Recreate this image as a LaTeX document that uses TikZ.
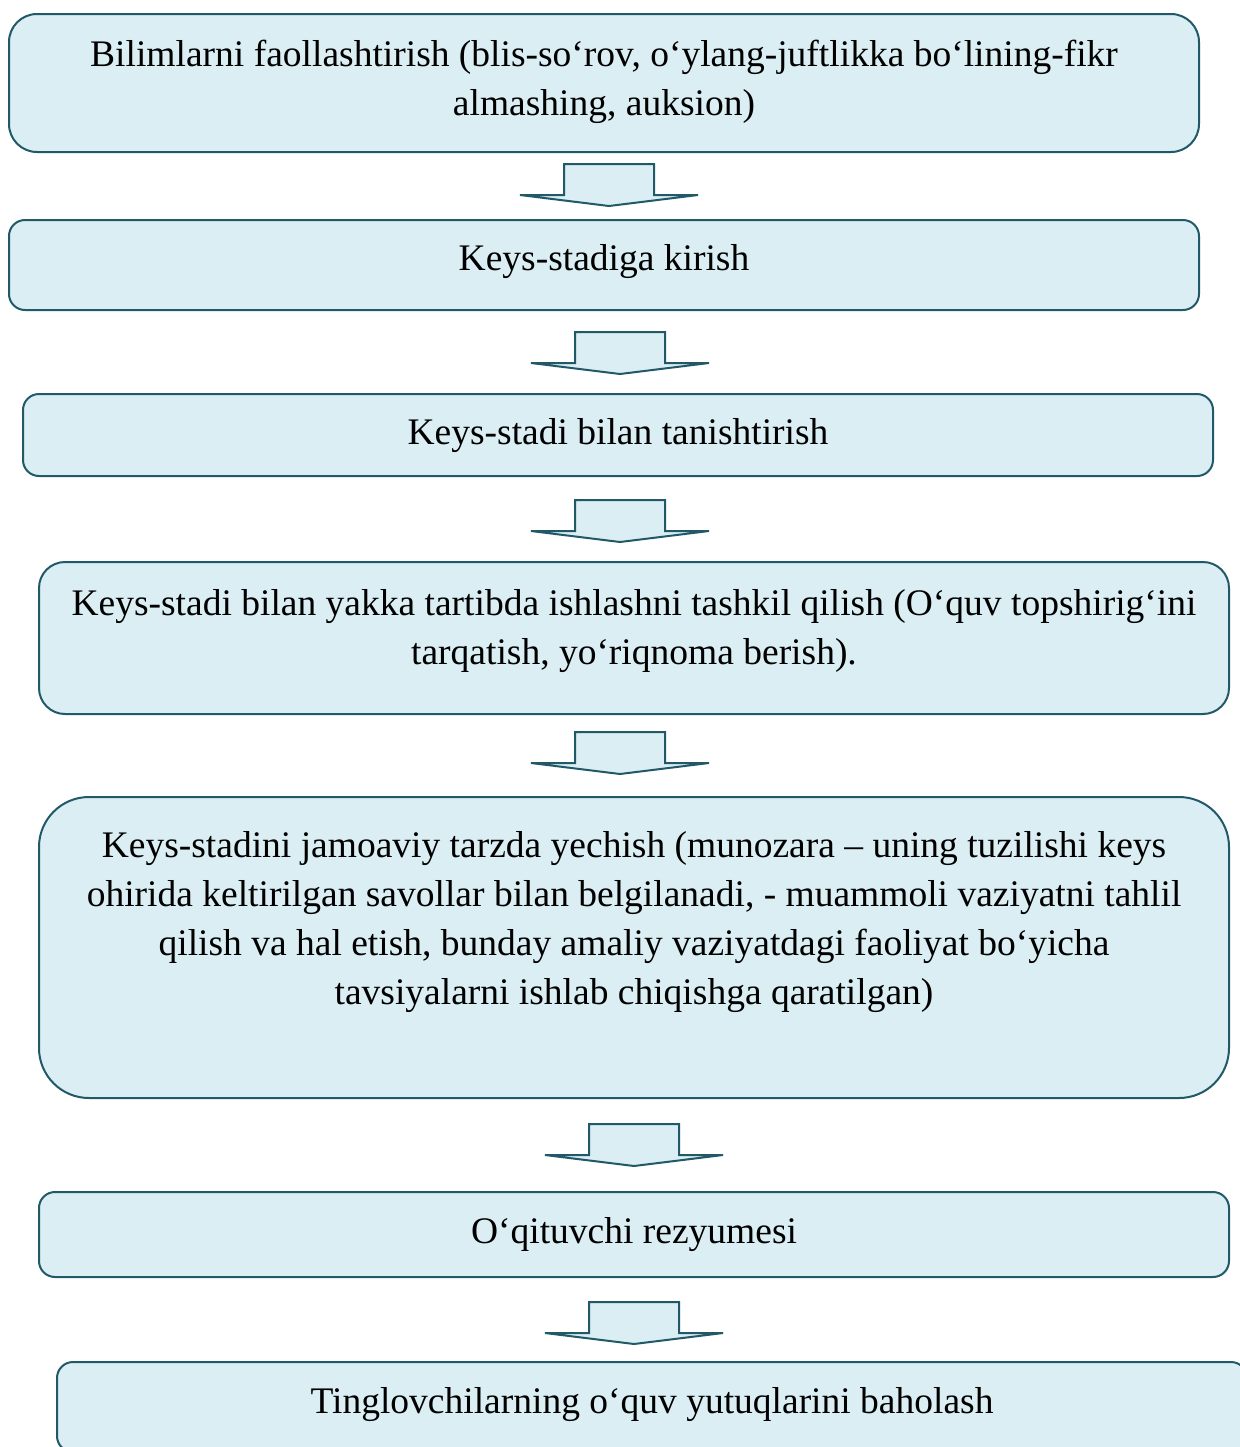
\documentclass[tikz,border=0pt]{standalone}
\usepackage{fontspec}
\setmainfont{Liberation Serif}
\definecolor{boxfill}{HTML}{DAEEF3}
\definecolor{boxline}{HTML}{215968}
\begin{document}
\begin{tikzpicture}[x=0.5pt,y=-0.5pt,
  box/.style={draw=boxline,fill=boxfill,line width=1pt,inner sep=0pt,rectangle},
  txt/.style={align=center,inner sep=0pt,font=\fontsize{18.75}{24.5}\selectfont},
  blockarrow/.style={draw=boxline,fill=boxfill,line width=1pt,line join=miter}]
\useasboundingbox (0,0) rectangle (1240,1447);
\clip (0,0) rectangle (1240,1447);
% boxes
\node[box,rounded corners=14pt,minimum width=595pt,minimum height=69pt] (b1) at (604,83) {};
\node[txt] (t1) at (604,82) {Bilimlarni faollashtirish (blis-so‘rov, o‘ylang-juftlikka bo‘lining-fikr\\almashing, auksion)};
\node[box,rounded corners=8pt,minimum width=595pt,minimum height=45pt] (b2) at (604,265) {};
\node[txt] (t2) at (604,262) {Keys-stadiga kirish};
\node[box,rounded corners=8pt,minimum width=595pt,minimum height=41pt] (b3) at (618,435) {};
\node[txt] (t3) at (618,436) {Keys-stadi bilan tanishtirish};
\node[box,rounded corners=13pt,minimum width=595pt,minimum height=76pt] (b4) at (634,638) {};
\node[txt] (t4) at (634,631) {Keys-stadi bilan yakka tartibda ishlashni tashkil qilish (O‘quv topshirig‘ini\\tarqatish, yo‘riqnoma berish).};
\node[box,rounded corners=25pt,minimum width=595pt,minimum height=150.5pt] (b5) at (634,947.5) {};
\node[txt] (t5) at (634,922) {Keys-stadini jamoaviy tarzda yechish (munozara – uning tuzilishi keys\\ohirida keltirilgan savollar bilan belgilanadi, - muammoli vaziyatni tahlil\\qilish va hal etish, bunday amaliy vaziyatdagi faoliyat bo‘yicha\\tavsiyalarni ishlab chiqishga qaratilgan)};
\node[box,rounded corners=8pt,minimum width=595pt,minimum height=42.5pt] (b6) at (634,1234.5) {};
\node[txt] (t6) at (634,1235) {O‘qituvchi rezyumesi};
\node[box,rounded corners=8pt,minimum width=595pt,minimum height=45pt] (b7) at (652,1407) {};
\node[txt] (t7) at (652,1405) {Tinglovchilarning o‘quv yutuqlarini baholash};
% block arrows
\foreach \sx/\top/\wl/\wr in {564/164/520/698, 575/332/531/709, 575/500/531/709, 575/732/531/709, 589/1124/545/723, 589/1302/545/723}{
  \draw[blockarrow] (\sx,\top) -- ++(90,0) -- ++(0,31) -- (\wr,\top+31) -- ({(\wl+\wr)/2},\top+42) -- (\wl,\top+31) -- (\sx,\top+31) -- cycle;
}
\end{tikzpicture}
\end{document}
